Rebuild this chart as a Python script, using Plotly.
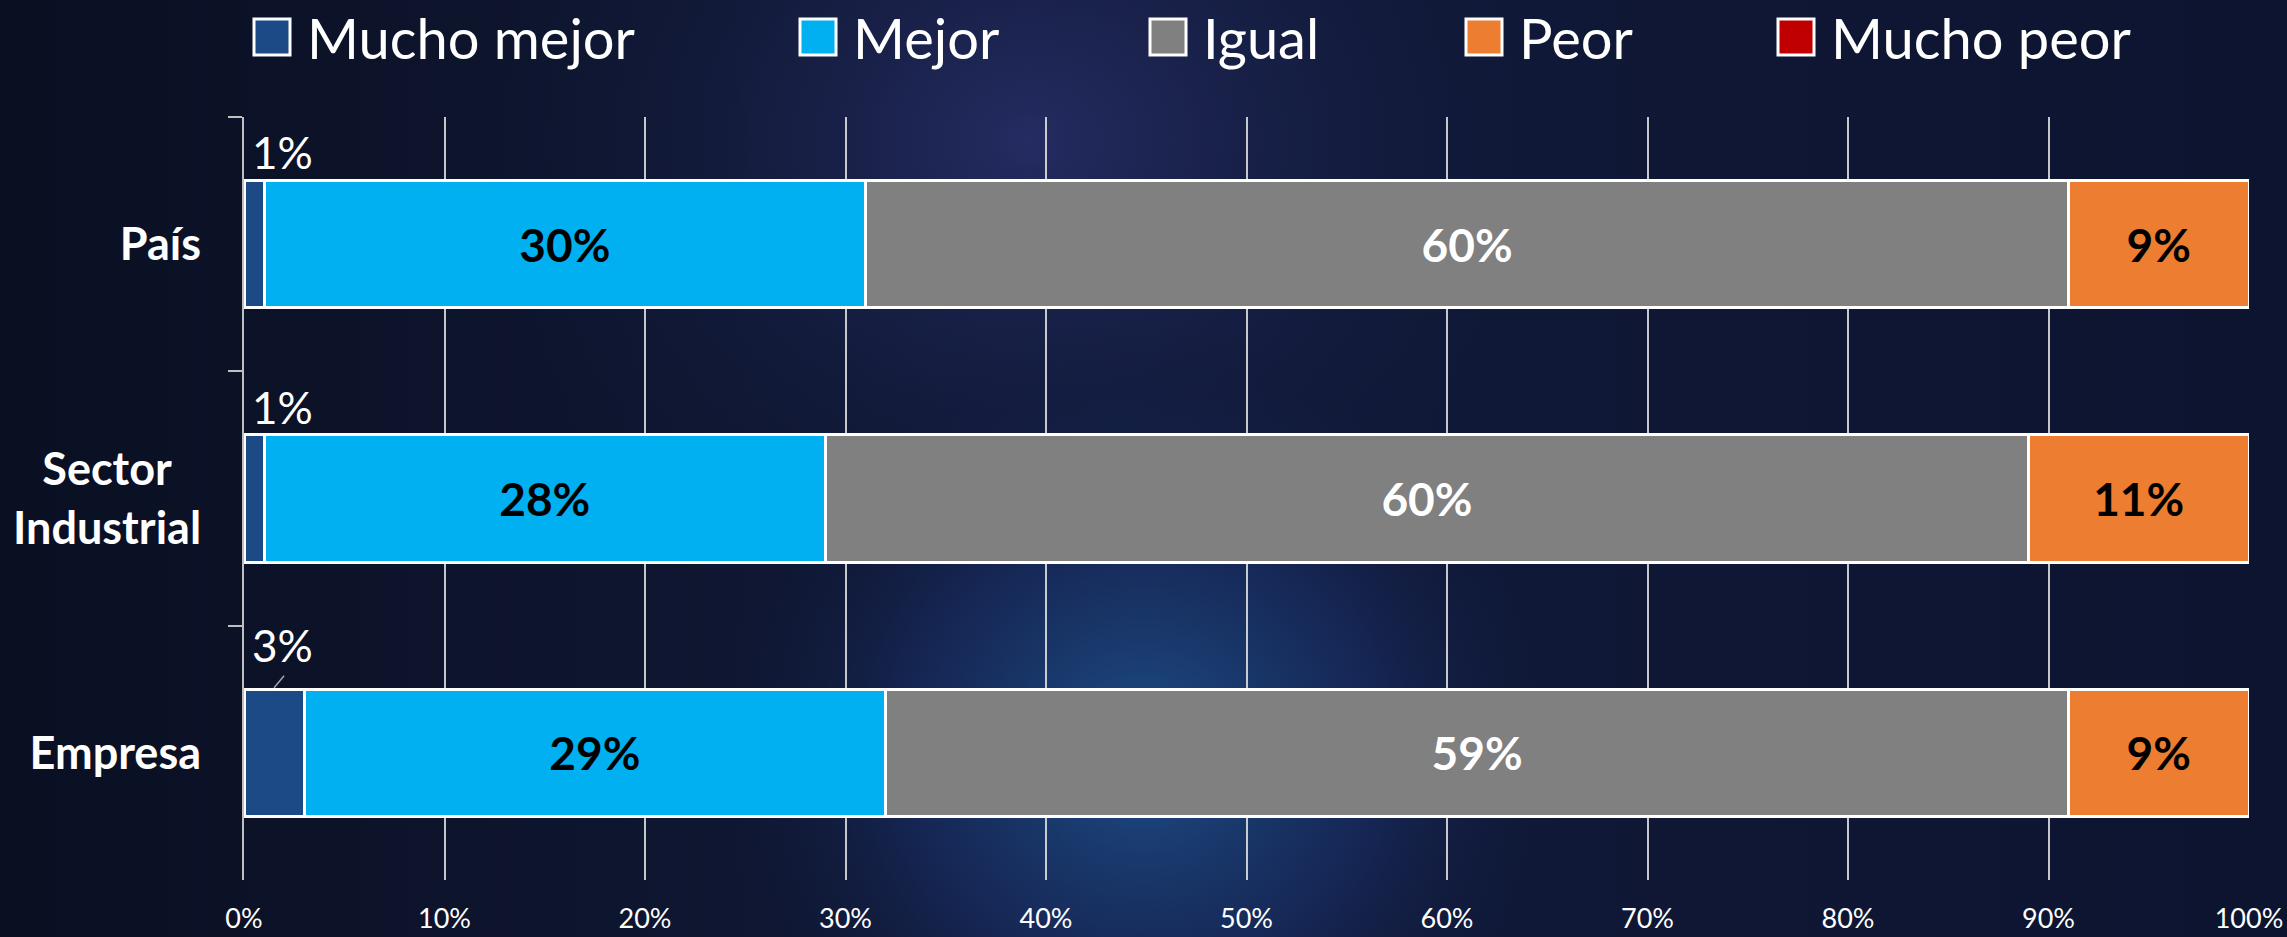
import base64
import plotly.graph_objects as go

# ---------------- data ----------------
categories = ["País", "Sector<br>Industrial", "Empresa"]
series_names = ["Mucho mejor", "Mejor", "Igual", "Peor", "Mucho peor"]
mucho_mejor = [1, 1, 3]
mejor = [30, 28, 29]
igual = [60, 60, 59]
peor = [9, 11, 9]
mucho_peor = [0, 0, 0]
x_tick_values = [0, 10, 20, 30, 40, 50, 60, 70, 80, 90, 100]
x_tick_labels = ["0%", "10%", "20%", "30%", "40%", "50%", "60%", "70%", "80%", "90%", "100%"]

# ---------------- styling ----------------
W, H = 2287, 937
ML, MR, MT, MB = 244, 38, 117, 57
PW, PH = W - ML - MR, H - MT - MB
FONT = "Lato, 'Noto Sans', sans-serif"

colors = ["#1B4A87", "#00B0F0", "#808080", "#ED7D31", "#C00000"]
label_colors = [None, "#000000", "#FFFFFF", "#000000", None]
series_values = [mucho_mejor, mejor, igual, peor, mucho_peor]

fig = go.Figure()
legend_ids = ["legend", "legend2", "legend3", "legend4", "legend5"]
for i, (name, vals) in enumerate(zip(series_names, series_values)):
    show_text = label_colors[i] is not None
    fig.add_trace(go.Bar(
        name=name,
        y=categories,
        x=vals,
        orientation="h",
        marker=dict(color=colors[i], line=dict(color="#FFFFFF", width=3)),
        text=[f"{v}%" for v in vals] if show_text else None,
        textposition="inside" if show_text else "none",
        insidetextanchor="middle",
        textfont=dict(family=FONT, size=46, color=label_colors[i] or "#FFFFFF", weight="bold"),
        legend=legend_ids[i],
        hoverinfo="x+y+name",
    ))

# outside labels for the small "Mucho mejor" segments
label_lift = [92, 92, 108]   # px of label centre above category centre
bar_half = 64                # px from category centre to bar top
for j, (cat, v) in enumerate(zip(categories, mucho_mejor)):
    fig.add_annotation(
        x=0, y=cat, xref="x", yref="y", xanchor="left", yanchor="middle",
        xshift=6, yshift=label_lift[j],
        text=f"{v}%", showarrow=False,
        font=dict(family=FONT, size=44, color="#FFFFFF"),
    )
    if label_lift[j] - bar_half > 35:   # leader line when the label sits far from its bar
        fig.add_shape(
            type="line", xref="x", yref="y",
            xsizemode="pixel", ysizemode="pixel",
            xanchor=v / 2, yanchor=cat,
            x0=0, x1=10, y0=bar_half + 1, y1=bar_half + 13,
            line=dict(color="#A6A6A6", width=1.5),
        )

# background (gradient approximation of the dark blue image)
svg = f"""<svg xmlns='http://www.w3.org/2000/svg' width='{W}' height='{H}'>
<defs>
<radialGradient id='g1' cx='0.50' cy='0.80' r='0.45' gradientTransform='translate(0.5 0.8) scale(0.42 1) translate(-0.5 -0.8)'>
<stop offset='0' stop-color='#1D4F88'/>
<stop offset='0.55' stop-color='#182C60' stop-opacity='0.7'/>
<stop offset='1' stop-color='#101836' stop-opacity='0'/>
</radialGradient>
<radialGradient id='g2' cx='0.45' cy='0.15' r='0.5' gradientTransform='translate(0.45 0.15) scale(0.5 1) translate(-0.45 -0.15)'>
<stop offset='0' stop-color='#242C62'/>
<stop offset='1' stop-color='#101836' stop-opacity='0'/>
</radialGradient>
<linearGradient id='bg' x1='0' y1='0' x2='1' y2='0'>
<stop offset='0' stop-color='#0A1022'/>
<stop offset='0.5' stop-color='#111A3A'/>
<stop offset='1' stop-color='#0D1430'/>
</linearGradient>
</defs>
<rect width='100%' height='100%' fill='url(#bg)'/>
<rect width='100%' height='100%' fill='url(#g2)'/>
<rect width='100%' height='100%' fill='url(#g1)'/>
</svg>"""
bg_uri = "data:image/svg+xml;base64," + base64.b64encode(svg.encode()).decode()
fig.add_layout_image(dict(
    source=bg_uri, xref="paper", yref="paper",
    x=-ML / PW, y=1 + MT / PH, sizex=W / PW, sizey=H / PH,
    xanchor="left", yanchor="top", sizing="stretch", layer="below",
))

# legends: one per series, placed like the original
legend_x_px = [237, 783, 1133, 1449, 1761]
legend_common = dict(
    orientation="h", yanchor="middle", y=1 + (MT - 37) / PH, xanchor="left",
    bgcolor="rgba(0,0,0,0)", borderwidth=0, itemwidth=60,
    font=dict(family=FONT, size=56, color="#FFFFFF"),
)
legend_layout = {}
for lid, px in zip(legend_ids, legend_x_px):
    legend_layout[lid] = dict(legend_common, x=(px - ML) / PW)

n_cat = len(categories)
fig.update_layout(
    width=W, height=H,
    margin=dict(l=ML, r=MR, t=MT, b=MB, autoexpand=False),
    barmode="stack", bargap=0.5,
    paper_bgcolor="#0E1532", plot_bgcolor="rgba(0,0,0,0)",
    showlegend=True,
    font=dict(family=FONT, color="#FFFFFF"),
    xaxis=dict(
        range=[0, 100], tickvals=x_tick_values, ticktext=x_tick_labels,
        showgrid=True, gridcolor="rgba(230,230,230,0.85)", gridwidth=1.5,
        zeroline=False, showline=False,
        ticks="outside", ticklen=15, tickcolor="rgba(0,0,0,0)",
        tickfont=dict(family=FONT, size=27, color="#FFFFFF"),
        automargin=False, fixedrange=True,
    ),
    yaxis=dict(
        categoryorder="array", categoryarray=categories,
        range=[n_cat - 0.5, -0.5],
        showline=True, linecolor="#BFBFBF", linewidth=2,
        ticks="outside", tickson="boundaries", ticklen=14, tickcolor="#BFBFBF", tickwidth=2,
        ticklabelstandoff=32,
        showgrid=False, zeroline=False,
        tickfont=dict(family=FONT, size=45, color="#FFFFFF", weight="bold"),
        automargin=False, fixedrange=True,
    ),
    **legend_layout,
)

post_js = """
document.body.style.margin = '0';
document.body.style.overflow = 'hidden';
document.body.style.background = '#0E1532';
var gd = document.getElementById('{plot_id}');
function restyleExtras() {
  gd.querySelectorAll('.legendpoints path').forEach(function(p) {
    var t = p.getAttribute('transform') || '';
    if (t.indexOf('scale') < 0) { p.setAttribute('transform', t + ' scale(3)'); }
    p.style.strokeWidth = '1px';
  });
  gd.querySelectorAll('.ytick text').forEach(function(t) {
    var lines = t.querySelectorAll('tspan.line');
    if (lines.length > 1 && !t.dataset.centered) {
      var bb = t.getBBox();
      var cx = bb.x + bb.width / 2;
      t.setAttribute('text-anchor', 'middle');
      t.setAttribute('x', cx);
      lines.forEach(function(l) { l.setAttribute('x', cx); });
      t.dataset.centered = '1';
    }
  });
}
restyleExtras();
gd.on('plotly_afterplot', restyleExtras);
"""

fig.write_html("out.html", post_script=post_js, config={"displayModeBar": False})
